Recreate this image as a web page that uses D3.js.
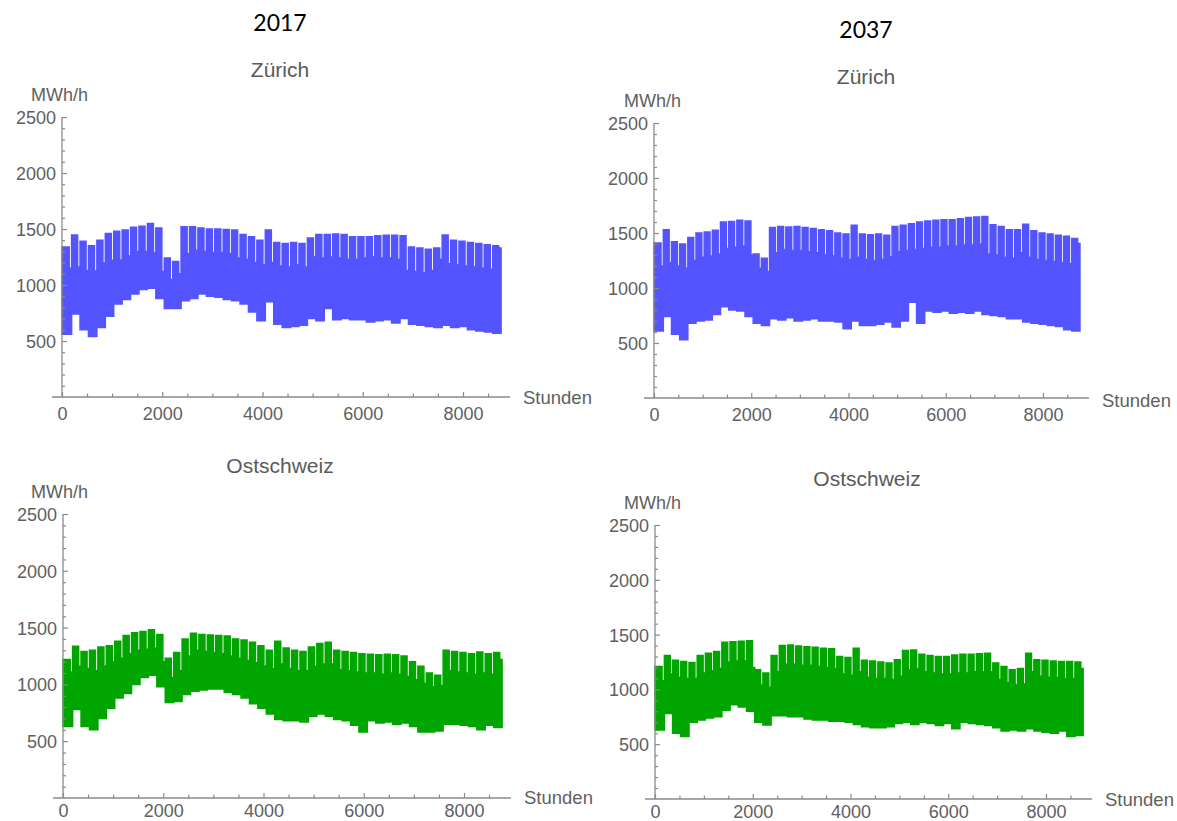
<!DOCTYPE html>
<html>
<head>
<meta charset="utf-8">
<script src="https://cdn.jsdelivr.net/npm/d3@7"></script>
<style>
  html, body { margin: 0; padding: 0; background: #fff; }
  svg { display: block; }
</style>
</head>
<body>
<svg id="chart" width="1177" height="821"></svg>
<script>
// Hourly load per region, summarised week by week (calendar of 2017:
// Mon–Fri block, then the Saturday/Sunday weekend). Values in MWh/h.
const weekCount = 52;
const hoursPerWeek = 168;
const firstWeekendHour = 144;
const yearHours = 8760;

const years = ["2017", "2037"];
const regions = ["Zürich", "Ostschweiz"];

// Zürich 2017
const zh2017Peak = [1340,1446,1390,1350,1400,1460,1480,1490,1515,1525,1550,1510,1240,1210,1520,1520,1510,1500,1500,1495,1490,1450,1430,1400,1490,1380,1370,1380,1370,1420,1450,1450,1455,1450,1430,1430,1430,1440,1445,1445,1440,1340,1330,1320,1330,1446,1400,1390,1380,1370,1360,1350];
const zh2017Weekend = [1150,1160,1130,1125,1196,1220,1223,1260,1300,1300,1290,1120,1050,1100,1280,1310,1300,1290,1290,1280,1240,1230,1200,1180,1200,1170,1160,1180,1160,1250,1240,1250,1240,1230,1230,1240,1250,1240,1240,1230,1130,1120,1110,1130,1230,1190,1180,1170,1160,1150,1140,1330];
const zh2017Low = [560,740,600,540,620,720,830,870,920,960,970,880,790,790,860,880,920,900,890,870,860,830,760,680,850,650,620,630,640,700,680,790,690,700,690,690,670,680,690,660,700,650,640,630,620,640,620,630,600,590,580,570];

// Zürich 2037
const zh2037Peak = [1410,1530,1420,1400,1460,1500,1510,1525,1600,1605,1615,1610,1310,1270,1550,1560,1555,1560,1550,1540,1530,1520,1500,1490,1570,1490,1485,1490,1480,1560,1570,1585,1600,1610,1615,1620,1620,1630,1640,1645,1650,1575,1560,1530,1530,1580,1520,1500,1490,1480,1470,1450];
const zh2037Weekend = [1200,1230,1200,1180,1250,1280,1290,1310,1360,1370,1380,1300,1180,1150,1320,1350,1340,1340,1330,1320,1300,1290,1270,1260,1280,1260,1250,1260,1283,1330,1340,1350,1360,1370,1370,1380,1380,1390,1390,1400,1310,1300,1280,1270,1320,1280,1260,1250,1240,1230,1220,1405];
const zh2037Low = [610,740,580,530,680,700,710,760,830,800,790,740,680,660,720,710,730,700,710,720,700,700,690,630,700,660,660,670,690,645,700,870,680,790,780,790,770,780,770,790,760,750,740,720,720,690,680,670,660,650,620,610];

// Ostschweiz 2017
const os2017Peak = [1220,1335,1290,1300,1330,1340,1380,1430,1455,1465,1480,1440,1230,1280,1400,1450,1440,1435,1430,1425,1400,1390,1370,1340,1300,1380,1320,1300,1290,1330,1360,1370,1300,1290,1280,1270,1265,1260,1265,1260,1250,1200,1160,1100,1080,1300,1290,1280,1270,1285,1270,1280];
const os2017Weekend = [1110,1160,1140,1120,1160,1200,1230,1270,1300,1310,1320,1200,1060,1120,1250,1300,1290,1280,1270,1250,1230,1210,1190,1160,1140,1180,1140,1120,1120,1160,1180,1180,1130,1120,1110,1100,1100,1090,1100,1090,1070,1040,1010,980,990,1120,1110,1100,1090,1100,1090,1220];
const os2017Low = [630,780,630,600,700,790,880,920,1000,1060,1080,980,840,850,910,940,950,960,960,930,910,880,830,790,740,690,680,680,670,720,740,720,690,680,640,580,680,660,670,650,660,630,580,580,590,650,650,640,630,600,640,620];

// Ostschweiz 2037
const os2037Peak = [1210,1310,1265,1255,1245,1310,1330,1345,1430,1435,1440,1445,1180,1150,1310,1400,1405,1395,1390,1385,1375,1370,1300,1290,1375,1265,1260,1250,1240,1270,1355,1360,1320,1310,1300,1300,1315,1320,1320,1325,1330,1240,1210,1180,1190,1330,1270,1265,1260,1255,1255,1250];
const os2037Weekend = [1080,1140,1110,1100,1100,1150,1170,1190,1250,1260,1260,1200,1040,1020,1160,1230,1230,1220,1220,1210,1200,1190,1140,1130,1160,1110,1100,1100,1090,1120,1180,1190,1160,1150,1140,1140,1150,1150,1160,1160,1160,1090,1060,1040,1050,1160,1120,1110,1110,1100,1100,1190];
const os2037Low = [630,780,600,570,700,720,740,750,810,860,840,800,700,675,760,760,750,750,730,720,720,710,710,700,680,660,650,650,660,690,700,680,700,690,670,690,640,700,690,680,670,650,620,630,620,640,620,610,600,620,570,580];

// Axis ticks
const yMajorTicks = [500, 1000, 1500, 2000, 2500];
const yMinorTicks = [100,200,300,400,600,700,800,900,1100,1200,1300,1400,1600,1700,1800,1900,2100,2200,2300,2400];
const xMajorTicks = [0, 2000, 4000, 6000, 8000];
const xMinorTicks = [500, 1000, 1500, 2500, 3000, 3500, 4500, 5000, 5500, 6500, 7000, 7500, 8500];

const yUnit = "MWh/h";
const xUnit = "Stunden";

const blue = "#5454ff";
const green = "#00a500";

// Panel layout: pixel frame of each small plot
const panels = [
  { region: regions[0], year: years[0], peak: zh2017Peak, weekend: zh2017Weekend, low: zh2017Low, color: blue,
    x0: 62, x8000: 463, yTop: 117, yAxis: 397, titleY: 77, unitX: 31, unitY: 101, yearX: 280, yearY: 31, cx: 280, stundenX: 523, stundenY: 404, xLabelTop: 407 },
  { region: regions[0], year: years[1], peak: zh2037Peak, weekend: zh2037Weekend, low: zh2037Low, color: blue,
    x0: 654, x8000: 1043, yTop: 123, yAxis: 398, titleY: 84, unitX: 624, unitY: 107, yearX: 866, yearY: 38, cx: 866, stundenX: 1102, stundenY: 407, xLabelTop: 408 },
  { region: regions[1], year: null, peak: os2017Peak, weekend: os2017Weekend, low: os2017Low, color: green,
    x0: 63, x8000: 464, yTop: 514, yAxis: 798, titleY: 473, unitX: 31, unitY: 498, cx: 280, stundenX: 524, stundenY: 804, xLabelTop: 804 },
  { region: regions[1], year: null, peak: os2037Peak, weekend: os2037Weekend, low: os2037Low, color: green,
    x0: 655, x8000: 1046, yTop: 525, yAxis: 799, titleY: 486, unitX: 624, unitY: 509, cx: 867, stundenX: 1105, stundenY: 806, xLabelTop: 805 }
];

const svg = d3.select("#chart");
const labelFont = "'Liberation Sans', Arial, sans-serif";
const labelColor = "#606060";
const axisColor = "#8a8a8a";
const plainNumber = d3.format("d");

// Expand weekly summaries into step points: weekday block then weekend
function weeklySteps(peak, weekend, low) {
  const pts = [];
  for (let k = 0; k < weekCount; k++) {
    const blockStart = k === 0 ? 0 : firstWeekendHour + 48 + hoursPerWeek * (k - 1);
    const weekendStart = firstWeekendHour + hoursPerWeek * k;
    pts.push({ h: blockStart, hi: peak[k], lo: low[k] });
    pts.push({ h: weekendStart, hi: weekend[k], lo: low[k] });
  }
  pts.push({ h: yearHours, hi: weekend[weekCount - 1], lo: low[weekCount - 1] });
  return pts;
}

panels.forEach(p => {
  const x = d3.scaleLinear().domain([0, 8000]).range([p.x0, p.x8000]);
  const y = d3.scaleLinear().domain([0, 2500]).range([p.yAxis, p.yTop]);
  const g = svg.append("g");

  // Series band
  const area = d3.area()
    .x(d => x(d.h))
    .y0(d => y(d.lo))
    .y1(d => y(d.hi))
    .curve(d3.curveStepAfter);
  g.append("path")
    .datum(weeklySteps(p.peak, p.weekend, p.low))
    .attr("d", area)
    .attr("fill", p.color)
    .attr("stroke", p.color)
    .attr("stroke-width", 1.5)
    .attr("stroke-linejoin", "miter");

  // Axis lines
  g.append("line")
    .attr("x1", p.x0 - 10).attr("x2", x(yearHours) + 9)
    .attr("y1", p.yAxis).attr("y2", p.yAxis)
    .attr("stroke", axisColor).attr("stroke-width", 1.3);
  g.append("line")
    .attr("x1", p.x0).attr("x2", p.x0)
    .attr("y1", p.yAxis).attr("y2", p.yTop)
    .attr("stroke", axisColor).attr("stroke-width", 1.3);

  // X ticks (pointing inward) and labels
  const xAxisMajor = d3.axisBottom(x).tickValues(xMajorTicks).tickFormat(plainNumber)
    .tickSizeInner(-5).tickSizeOuter(0).tickPadding(p.xLabelTop - p.yAxis);
  const xg = g.append("g").attr("transform", `translate(0,${p.yAxis})`).call(xAxisMajor);
  const xAxisMinor = d3.axisBottom(x).tickValues(xMinorTicks).tickSizeInner(-3.5).tickSizeOuter(0).tickFormat("");
  const xg2 = g.append("g").attr("transform", `translate(0,${p.yAxis})`).call(xAxisMinor);

  // Y ticks and labels
  const yAxisMajor = d3.axisLeft(y).tickValues(yMajorTicks).tickFormat(plainNumber)
    .tickSizeInner(-5).tickSizeOuter(0).tickPadding(6);
  const yg = g.append("g").attr("transform", `translate(${p.x0},0)`).call(yAxisMajor);
  const yAxisMinor = d3.axisLeft(y).tickValues(yMinorTicks).tickSizeInner(-3).tickSizeOuter(0).tickFormat("");
  const yg2 = g.append("g").attr("transform", `translate(${p.x0},0)`).call(yAxisMinor);

  [xg, xg2, yg, yg2].forEach(a => {
    a.select(".domain").remove();
    a.selectAll("line").attr("stroke", axisColor).attr("stroke-width", 1.2);
    a.selectAll("text")
      .attr("fill", labelColor)
      .style("font-family", labelFont)
      .style("font-size", "18px");
  });
  xg.selectAll("text").attr("dy", "0.71em");
  yg.selectAll("text").attr("dy", "0.36em");

  // Unit labels
  g.append("text")
    .attr("x", p.unitX).attr("y", p.unitY)
    .attr("fill", labelColor)
    .style("font-family", labelFont).style("font-size", "18px")
    .text(yUnit);
  g.append("text")
    .attr("x", p.stundenX).attr("y", p.stundenY)
    .attr("fill", labelColor)
    .style("font-family", labelFont).style("font-size", "18.5px")
    .text(xUnit);

  // Panel title
  g.append("text")
    .attr("x", p.cx).attr("y", p.titleY)
    .attr("text-anchor", "middle")
    .attr("fill", "#5a5a5a")
    .style("font-family", labelFont).style("font-size", "21px")
    .text(p.region);

  // Column heading (year)
  if (p.year) {
    svg.append("text")
      .attr("x", p.yearX).attr("y", p.yearY)
      .attr("text-anchor", "middle")
      .attr("fill", "#000")
      .style("font-family", "Lato, 'Open Sans', sans-serif")
      .style("font-size", "23px")
      .text(p.year);
  }
});
</script>
</body>
</html>
